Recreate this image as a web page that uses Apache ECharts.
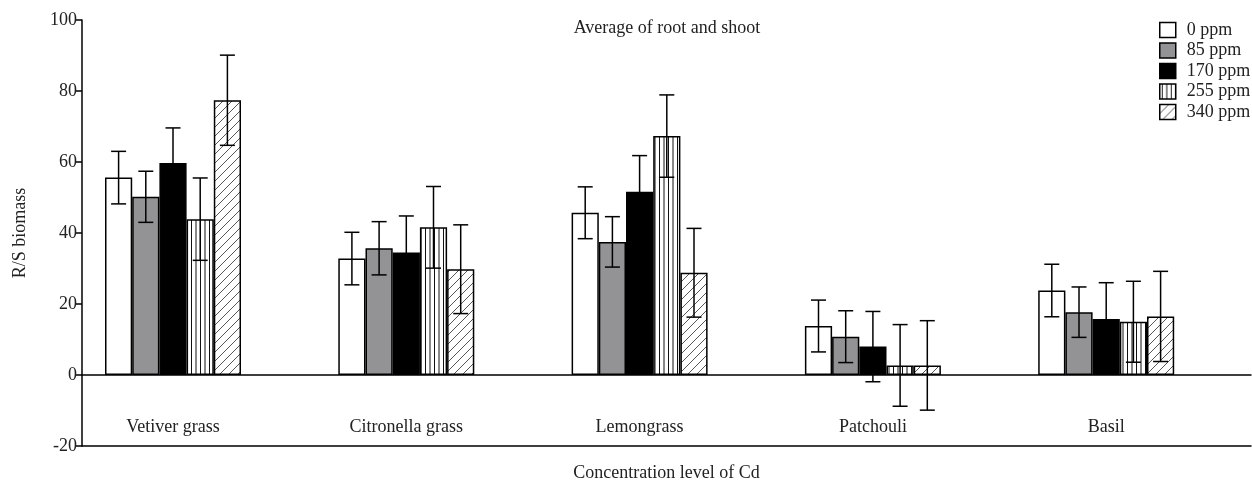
<!DOCTYPE html>
<html>
<head>
<meta charset="utf-8">
<script src="https://cdn.jsdelivr.net/npm/echarts@6/dist/echarts.min.js"></script>
<style>html,body{margin:0;padding:0;background:#fff}#c{width:1252px;height:483px}</style>
</head>
<body>
<div id="c"></div>
<script>
const categories = ['Vetiver grass', 'Citronella grass', 'Lemongrass', 'Patchouli', 'Basil'];
const seriesNames = ['0 ppm', '85 ppm', '170 ppm', '255 ppm', '340 ppm'];
const yTicks = [-20, 0, 20, 40, 60, 80, 100];
const v0   = [55.6, 32.8, 45.7, 13.8, 23.8];
const v85  = [50.2, 35.7, 37.5, 10.8, 17.7];
const v170 = [59.7, 34.5, 51.6, 8.0, 15.8];
const v255 = [43.9, 41.6, 67.3, 2.7, 15.0];
const v340 = [77.4, 29.8, 28.8, 2.7, 16.5];
const e0   = [7.4, 7.4, 7.3, 7.3, 7.4];
const e85  = [7.2, 7.5, 7.1, 7.3, 7.1];
const e170 = [9.9, 10.3, 10.2, 9.9, 10.2];
const e255 = [11.6, 11.5, 11.6, 11.5, 11.4];
const e340 = [12.7, 12.5, 12.5, 12.6, 12.7];

const values = [v0, v85, v170, v255, v340];
const errors = [e0, e85, e170, e255, e340];

const FONT = 'Liberation Serif';
const BAR_W = 27.2;
const CAP = 7.5;

function vertPattern() {
  const c = document.createElement('canvas');
  c.width = 9; c.height = 4;
  const g = c.getContext('2d');
  g.fillStyle = '#fff'; g.fillRect(0, 0, 9, 4);
  g.strokeStyle = '#111'; g.lineWidth = 1;
  g.beginPath(); g.moveTo(2.5, 0); g.lineTo(2.5, 4); g.moveTo(7, 0); g.lineTo(7, 4); g.stroke();
  return c;
}
function diagPattern() {
  const s = 9;
  const c = document.createElement('canvas');
  c.width = s; c.height = s;
  const g = c.getContext('2d');
  g.fillStyle = '#fff'; g.fillRect(0, 0, s, s);
  g.strokeStyle = '#444'; g.lineWidth = 0.9;
  g.beginPath();
  g.moveTo(0, s); g.lineTo(s, 0);
  g.moveTo(-1, 1); g.lineTo(1, -1);
  g.moveTo(s - 1, s + 1); g.lineTo(s + 1, s - 1);
  g.stroke();
  return c;
}

const fills = [
  '#ffffff',
  '#939396',
  '#000000',
  { image: vertPattern(), repeat: 'repeat' },
  { image: diagPattern(), repeat: 'repeat' }
];

const barSeries = seriesNames.map((n, k) => ({
  name: n,
  type: 'bar',
  xAxisIndex: 2,
  yAxisIndex: 1,
  barWidth: BAR_W,
  barGap: '0%',
  data: values[k],
  itemStyle: { color: fills[k], borderColor: '#000', borderWidth: 1.5 },
  emphasis: { disabled: true },
  z: 2
}));

const errData = [];
values.forEach((arr, k) => arr.forEach((v, i) => {
  errData.push([i, v - errors[k][i], v + errors[k][i], k]);
}));

const errSeries = {
  type: 'custom',
  xAxisIndex: 2,
  yAxisIndex: 1,
  z: 5,
  silent: true,
  encode: { x: 0, y: [1, 2] },
  data: errData,
  renderItem(params, api) {
    const ci = api.value(0), k = api.value(3);
    const lo = api.coord([ci, api.value(1)]);
    const hi = api.coord([ci, api.value(2)]);
    const x = lo[0] + (k - 2) * BAR_W;
    const st = { stroke: '#000', lineWidth: 1.5 };
    return {
      type: 'group',
      children: [
        { type: 'line', shape: { x1: x, y1: lo[1], x2: x, y2: hi[1] }, style: st },
        { type: 'line', shape: { x1: x - CAP, y1: hi[1], x2: x + CAP, y2: hi[1] }, style: st },
        { type: 'line', shape: { x1: x - CAP, y1: lo[1], x2: x + CAP, y2: lo[1] }, style: st }
      ]
    };
  }
};

const chart = echarts.init(document.getElementById('c'), null, { renderer: 'canvas' });
chart.setOption({
  animation: false,
  backgroundColor: '#fff',
  textStyle: { fontFamily: FONT },
  title: {
    text: 'Average of root and shoot',
    left: 667, top: 19, padding: 0,
    textAlign: 'center',
    textStyle: { fontFamily: FONT, fontSize: 18, fontWeight: 'normal', color: '#222' }
  },
  legend: {
    orient: 'vertical',
    left: 1159, top: 21, padding: 0,
    itemWidth: 16, itemHeight: 15, itemGap: 2.5,
    icon: 'rect',
    data: seriesNames,
    textStyle: { fontFamily: FONT, fontSize: 18, color: '#222', lineHeight: 18, padding: [0, 0, 0, 6] },
    itemStyle: { borderColor: '#000', borderWidth: 1.5 }
  },
  grid: [
    { left: 82, right: 1, top: 20, bottom: 37, outerBoundsMode: 'none', containLabel: false },
    { left: 56.35, right: 29.15, top: 20, bottom: 37, outerBoundsMode: 'none', containLabel: false }
  ],
  xAxis: [
    { type: 'value', gridIndex: 0, position: 'top', min: 0, max: 1,
      axisLine: { show: true, onZero: true, lineStyle: { color: '#000', width: 1.5 } },
      axisTick: { show: false }, axisLabel: { show: false }, splitLine: { show: false } },
    { type: 'value', gridIndex: 0, position: 'bottom', min: 0, max: 1,
      name: 'Concentration level of Cd', nameLocation: 'middle', nameGap: 18,
      nameTextStyle: { fontFamily: FONT, fontSize: 18, color: '#222' },
      axisLine: { show: true, onZero: false, lineStyle: { color: '#000', width: 1.5 } },
      axisTick: { show: false }, axisLabel: { show: false }, splitLine: { show: false } },
    { type: 'category', gridIndex: 1, data: categories, position: 'bottom',
      axisLine: { show: false, onZero: false },
      axisTick: { show: false },
      axisLabel: { margin: -28, fontFamily: FONT, fontSize: 18, color: '#222', interval: 0 },
      splitLine: { show: false } }
  ],
  yAxis: [
    { type: 'value', gridIndex: 0, min: yTicks[0], max: yTicks[yTicks.length - 1], interval: 20,
      name: 'R/S biomass', nameLocation: 'middle', nameGap: 53,
      nameTextStyle: { fontFamily: FONT, fontSize: 18, color: '#222' },
      axisLine: { show: true, onZero: false, lineStyle: { color: '#000', width: 1.5 } },
      axisTick: { show: true, inside: false, length: 7, lineStyle: { color: '#000', width: 1.5 } },
      axisLabel: { margin: 5, fontFamily: FONT, fontSize: 18, color: '#222' },
      splitLine: { show: false } },
    { type: 'value', gridIndex: 1, min: yTicks[0], max: yTicks[yTicks.length - 1], interval: 20, show: false,
      splitLine: { show: false } }
  ],
  series: [...barSeries, errSeries]
});
</script>
</body>
</html>
